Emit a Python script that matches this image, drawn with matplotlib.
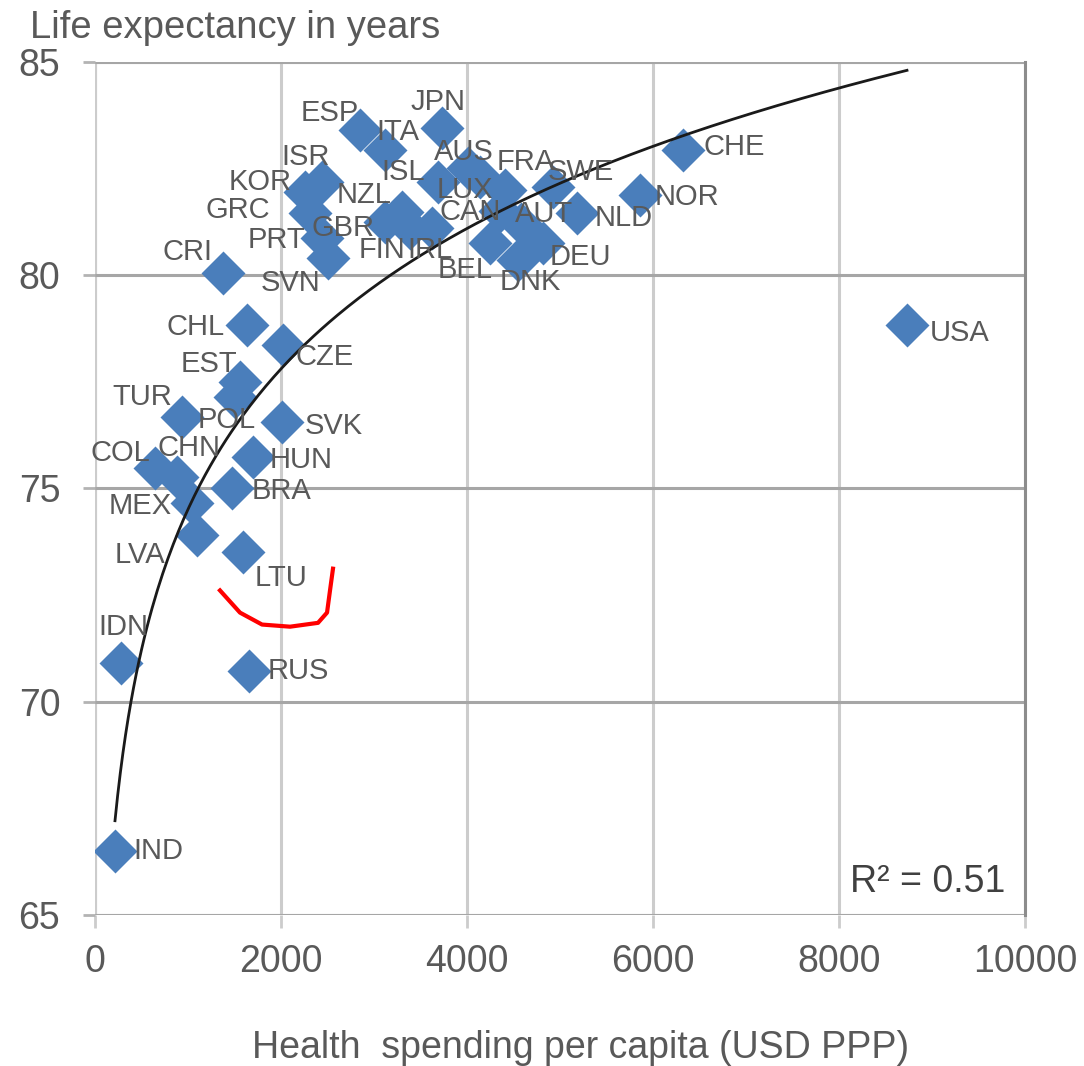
import numpy as np
import matplotlib
matplotlib.use('Agg')
import matplotlib.pyplot as plt

plt.rcParams['font.family'] = ['Liberation Sans', 'DejaVu Sans']

# Country codes, health spending per capita (USD PPP), life expectancy (years)
countries = ['IND', 'IDN', 'RUS', 'LTU', 'LVA', 'MEX', 'COL', 'CHN', 'BRA', 'HUN',
             'SVK', 'TUR', 'POL', 'EST', 'CHL', 'CZE', 'CRI', 'SVN', 'PRT', 'GRC',
             'KOR', 'ISR', 'GBR', 'NZL', 'FIN', 'IRL', 'ESP', 'ITA', 'JPN', 'ISL',
             'AUS', 'FRA', 'LUX', 'CAN', 'SWE', 'AUT', 'NLD', 'NOR', 'CHE', 'DEU',
             'DNK', 'BEL', 'USA']
spending = [215, 280, 1656, 1591, 1097, 1043, 645, 882, 1473, 1699,
            2011, 935, 1500, 1560, 1634, 2022, 1376, 2505, 2441, 2312,
            2258, 2441, 3118, 3300, 3387, 3624, 2850, 3118, 3731, 3688,
            4011, 4140, 4409, 4350, 4925, 4580, 5183, 5860, 6323, 4817,
            4548, 4247, 8731]
life_exp = [66.5, 70.9, 70.73, 73.5, 73.9, 74.67, 75.49, 75.26, 75.02, 75.73,
            76.55, 76.67, 77.15, 77.5, 78.83, 78.36, 80.05, 80.4, 80.87, 81.46,
            81.95, 82.18, 81.24, 81.48, 81.1, 81.1, 83.4, 82.93, 83.45, 82.18,
            82.51, 82.3, 82.0, 81.5, 82.07, 81.2, 81.46, 81.88, 82.93, 80.75,
            80.35, 80.75, 78.83]

# logarithmic trendline as shown in the chart: y = a*ln(x) + b
trend_a = 4.75
trend_b = 41.70
r_squared = 0.51

# label placement: (dx px, dy px downwards, alignment)
label_pos = {
    'IND': (18, 0, 'left'), 'IDN': (2, -36, 'center'), 'RUS': (19, 0, 'left'),
    'LTU': (12, 26, 'left'), 'LVA': (-32, 20, 'right'), 'MEX': (-20, 3, 'right'),
    'COL': (-5, -15, 'right'), 'CHN': (12, -29, 'center'), 'BRA': (20, 3, 'left'),
    'HUN': (17, 3, 'left'), 'SVK': (23, 4, 'left'), 'TUR': (-10, -20, 'right'),
    'POL': (-8, 23, 'center'), 'EST': (-31, -18, 'center'), 'CHL': (-22, 2, 'right'),
    'CZE': (12, 12, 'left'), 'CRI': (-10, -21, 'right'), 'SVN': (-37, 25, 'center'),
    'PRT': (-17, 2, 'right'), 'GRC': (-40, -3, 'right'), 'KOR': (-13, -10, 'right'),
    'ISR': (-16, -25, 'center'), 'GBR': (-10, 6, 'right'), 'NZL': (-10, -17, 'right'),
    'FIN': (-5, 22, 'right'), 'IRL': (-25, 22, 'left'), 'ESP': (-30, -17, 'center'),
    'ITA': (13, -18, 'center'), 'JPN': (-4, -26, 'center'), 'ISL': (-13, -10, 'right'),
    'AUS': (-4, -16, 'center'), 'FRA': (17, -15, 'left'), 'LUX': (-40, 0, 'center'),
    'CAN': (-29, 1, 'center'), 'SWE': (-5, -15, 'left'), 'AUT': (-6, -10, 'left'),
    'NLD': (18, 5, 'left'), 'NOR': (15, 2, 'left'), 'CHE': (20, -3, 'left'),
    'DEU': (7, 14, 'left'), 'DNK': (12, 22, 'center'), 'BEL': (-25, 27, 'center'),
    'USA': (23, 8, 'left'),
}

# hand-drawn red mark
red_x = [1344, 1559, 1796, 2097, 2398, 2495, 2527, 2559]
red_y = [72.61, 72.09, 71.81, 71.76, 71.85, 72.09, 72.61, 73.12]

x = np.array(spending, dtype=float)
y = np.array(life_exp, dtype=float)

fig = plt.figure(figsize=(10.84, 10.66), dpi=100)
ax = fig.add_axes([95 / 1084, 1 - 915 / 1066, 930 / 1084, 853 / 1066])

ax.set_xlim(0, 10000)
ax.set_ylim(65, 85)
ax.set_xticks(range(0, 10001, 2000))
ax.set_yticks(range(65, 86, 5))

ax.grid(True, axis='y', color='#a6a6a6', lw=2.2, zorder=0)
ax.grid(True, axis='x', color='#cccccc', lw=2.2, zorder=0)
for side in ['top', 'bottom', 'left']:
    ax.spines[side].set_visible(False)
ax.spines['right'].set_color('#8c8c8c')
ax.spines['right'].set_linewidth(2.2)
ax.axhline(65, color='#cccccc', lw=2.2, zorder=0)
ax.axhline(85, color='#cccccc', lw=2.2, zorder=0)
ax.axvline(0, color='#b3b3b3', lw=2.2, zorder=0)

ax.tick_params(axis='x', length=9, width=2, color='#cccccc', pad=12,
               labelsize=27, labelcolor='#595959')
ax.tick_params(axis='y', length=9, width=2, color='#b3b3b3', pad=16,
               labelsize=27, labelcolor='#595959')

# log trendline
xs = np.linspace(x.min(), x.max(), 300)
ax.plot(xs, trend_a * np.log(xs) + trend_b, color='#1a1a1a', lw=2, zorder=3)

ax.plot(x, y, 'D', ms=22, color='#4a7ebb', mec='none', zorder=2)

for c, xi, yi in zip(countries, x, y):
    dx, dy, ha = label_pos[c]
    ax.annotate(c, (xi, yi), xytext=(dx * 0.72, -dy * 0.72), textcoords='offset points',
                ha=ha, va='center', fontsize=21, color='#595959', zorder=4)

ax.plot(red_x, red_y, color='#ff0000', lw=3, zorder=5)

ax.text(1005 / 1084, 1 - 892 / 1066, 'R\u00b2 = %.2f' % r_squared, transform=fig.transFigure,
        ha='right', va='baseline', fontsize=27, color='#404040')

fig.text(30 / 1084, 1 - 10 / 1066, 'Life expectancy in years', ha='left', va='top',
         fontsize=27.5, color='#595959')
fig.text(581 / 1084, 1 - 1058 / 1066, 'Health  spending per capita (USD PPP)',
         ha='center', va='baseline', fontsize=27, color='#595959')

fig.savefig('out.png', dpi=100)
